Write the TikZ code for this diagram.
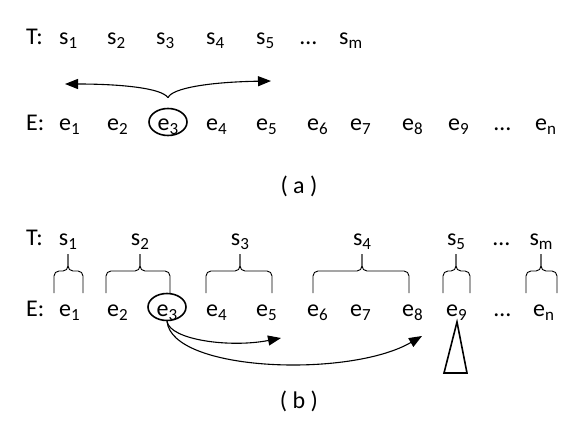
\documentclass[tikz,border=0pt]{standalone}
\usepackage{fontspec}
\setmainfont{Carlito}
\usetikzlibrary{calc,arrows.meta,shapes.geometric,positioning}
\newcommand{\idx}[1]{\raisebox{-4pt}{\fontsize{17}{17}\selectfont #1}}

\begin{document}
\begin{tikzpicture}[x=1pt,y=-1pt]

\tikzset{lbl/.style={font=\fontsize{24}{26}\selectfont,inner sep=0pt,anchor=base west},
ring/.style={font=\fontsize{24}{26}\selectfont,draw,line width=1.6pt,shape=ellipse,inner sep=0pt,minimum width=38pt,minimum height=27pt,text height=18pt,text depth=0pt},
bracket/.style={line width=0.9pt,rounded corners=5pt},
jump/.style={line width=1.1pt,-{Triangle[length=13pt,width=10pt]}}}

\useasboundingbox (0,0) rectangle (582,428);

% (a) sequence T
\node[lbl] (ta) at (26,45) {T:};
\foreach \i/\x in {1/59,2/107,3/156,4/206,5/256} \node[lbl] (ta\i) at (\x,45) {s\idx{\i}};
\node[lbl] (tadots) at (300,45) {…};
\node[lbl] (tam) at (339,45) {s\idx{m}};

% (a) sequence E
\node[lbl] (ea) at (26,131) {E:};
\foreach \i/\x in {1/59,2/107,4/206,5/256,6/307,7/350,8/402,9/448} \node[lbl] (ea\i) at (\x,131) {e\idx{\i}};
\node[ring] (ea3) at (168,122) {e\idx{3}};
\node[lbl] (eadots) at (494,131) {…};
\node[lbl] (ean) at (535,131) {e\idx{n}};

% (a) arrows
\coordinate (ja) at ($(ea3.north)+(0,-10)$);
\coordinate (la) at (65,84);
\coordinate (ra) at (271,81);
\draw[jump] (ja) .. controls (162,88) and (120,84) .. (la);
\draw[jump] (ja) .. controls (172,88) and (210,82) .. (ra);

\node[font=\fontsize{24}{26}\selectfont] (capa) at (299,186) {( a )};

% (b) segments of T over E
\node[lbl] (tb) at (26,245) {T:};
\foreach \i/\l/\c/\r in {1/54/68/83,2/106/140/170,3/206/240/272,4/313/362/409,5/443/456/470,m/526/541/557} {
  \node[lbl,anchor=base] (tb\i) at (\c,245) {s\idx{\i}};
  \draw[bracket] (\l,293) -- (\l,271) -- (\c,271) -- (\c,254);
  \draw[bracket] (\r,293) -- (\r,271) -- (\c,271) -- (\c,254);
}
\node[lbl] (tbdots) at (493,245) {…};

% (b) sequence E
\node[lbl] (eb) at (26,316) {E:};
\foreach \i/\x in {1/59,2/107,4/206,5/256,6/307,7/350,8/402,9/446} \node[lbl] (eb\i) at (\x,316) {e\idx{\i}};
\node[ring] (eb3) at (167,307) {e\idx{3}};
\node[lbl] (ebdots) at (494,316) {…};
\node[lbl] (ebn) at (533,316) {e\idx{n}};

% (b) arrows and pointer
\coordinate (kb1) at (281,338);
\coordinate (kb2) at (422,336);
\draw[jump] (eb3.south) .. controls (170,340) and (230,348) .. (kb1);
\draw[jump] (eb3.south) .. controls (172,372) and (350,378) .. (kb2);
\draw[line width=1.6pt] (457,322) -- (467,373) -- (444,373) -- cycle;

\node[font=\fontsize{24}{26}\selectfont] (capb) at (299,401) {( b )};

\end{tikzpicture}
\end{document}
